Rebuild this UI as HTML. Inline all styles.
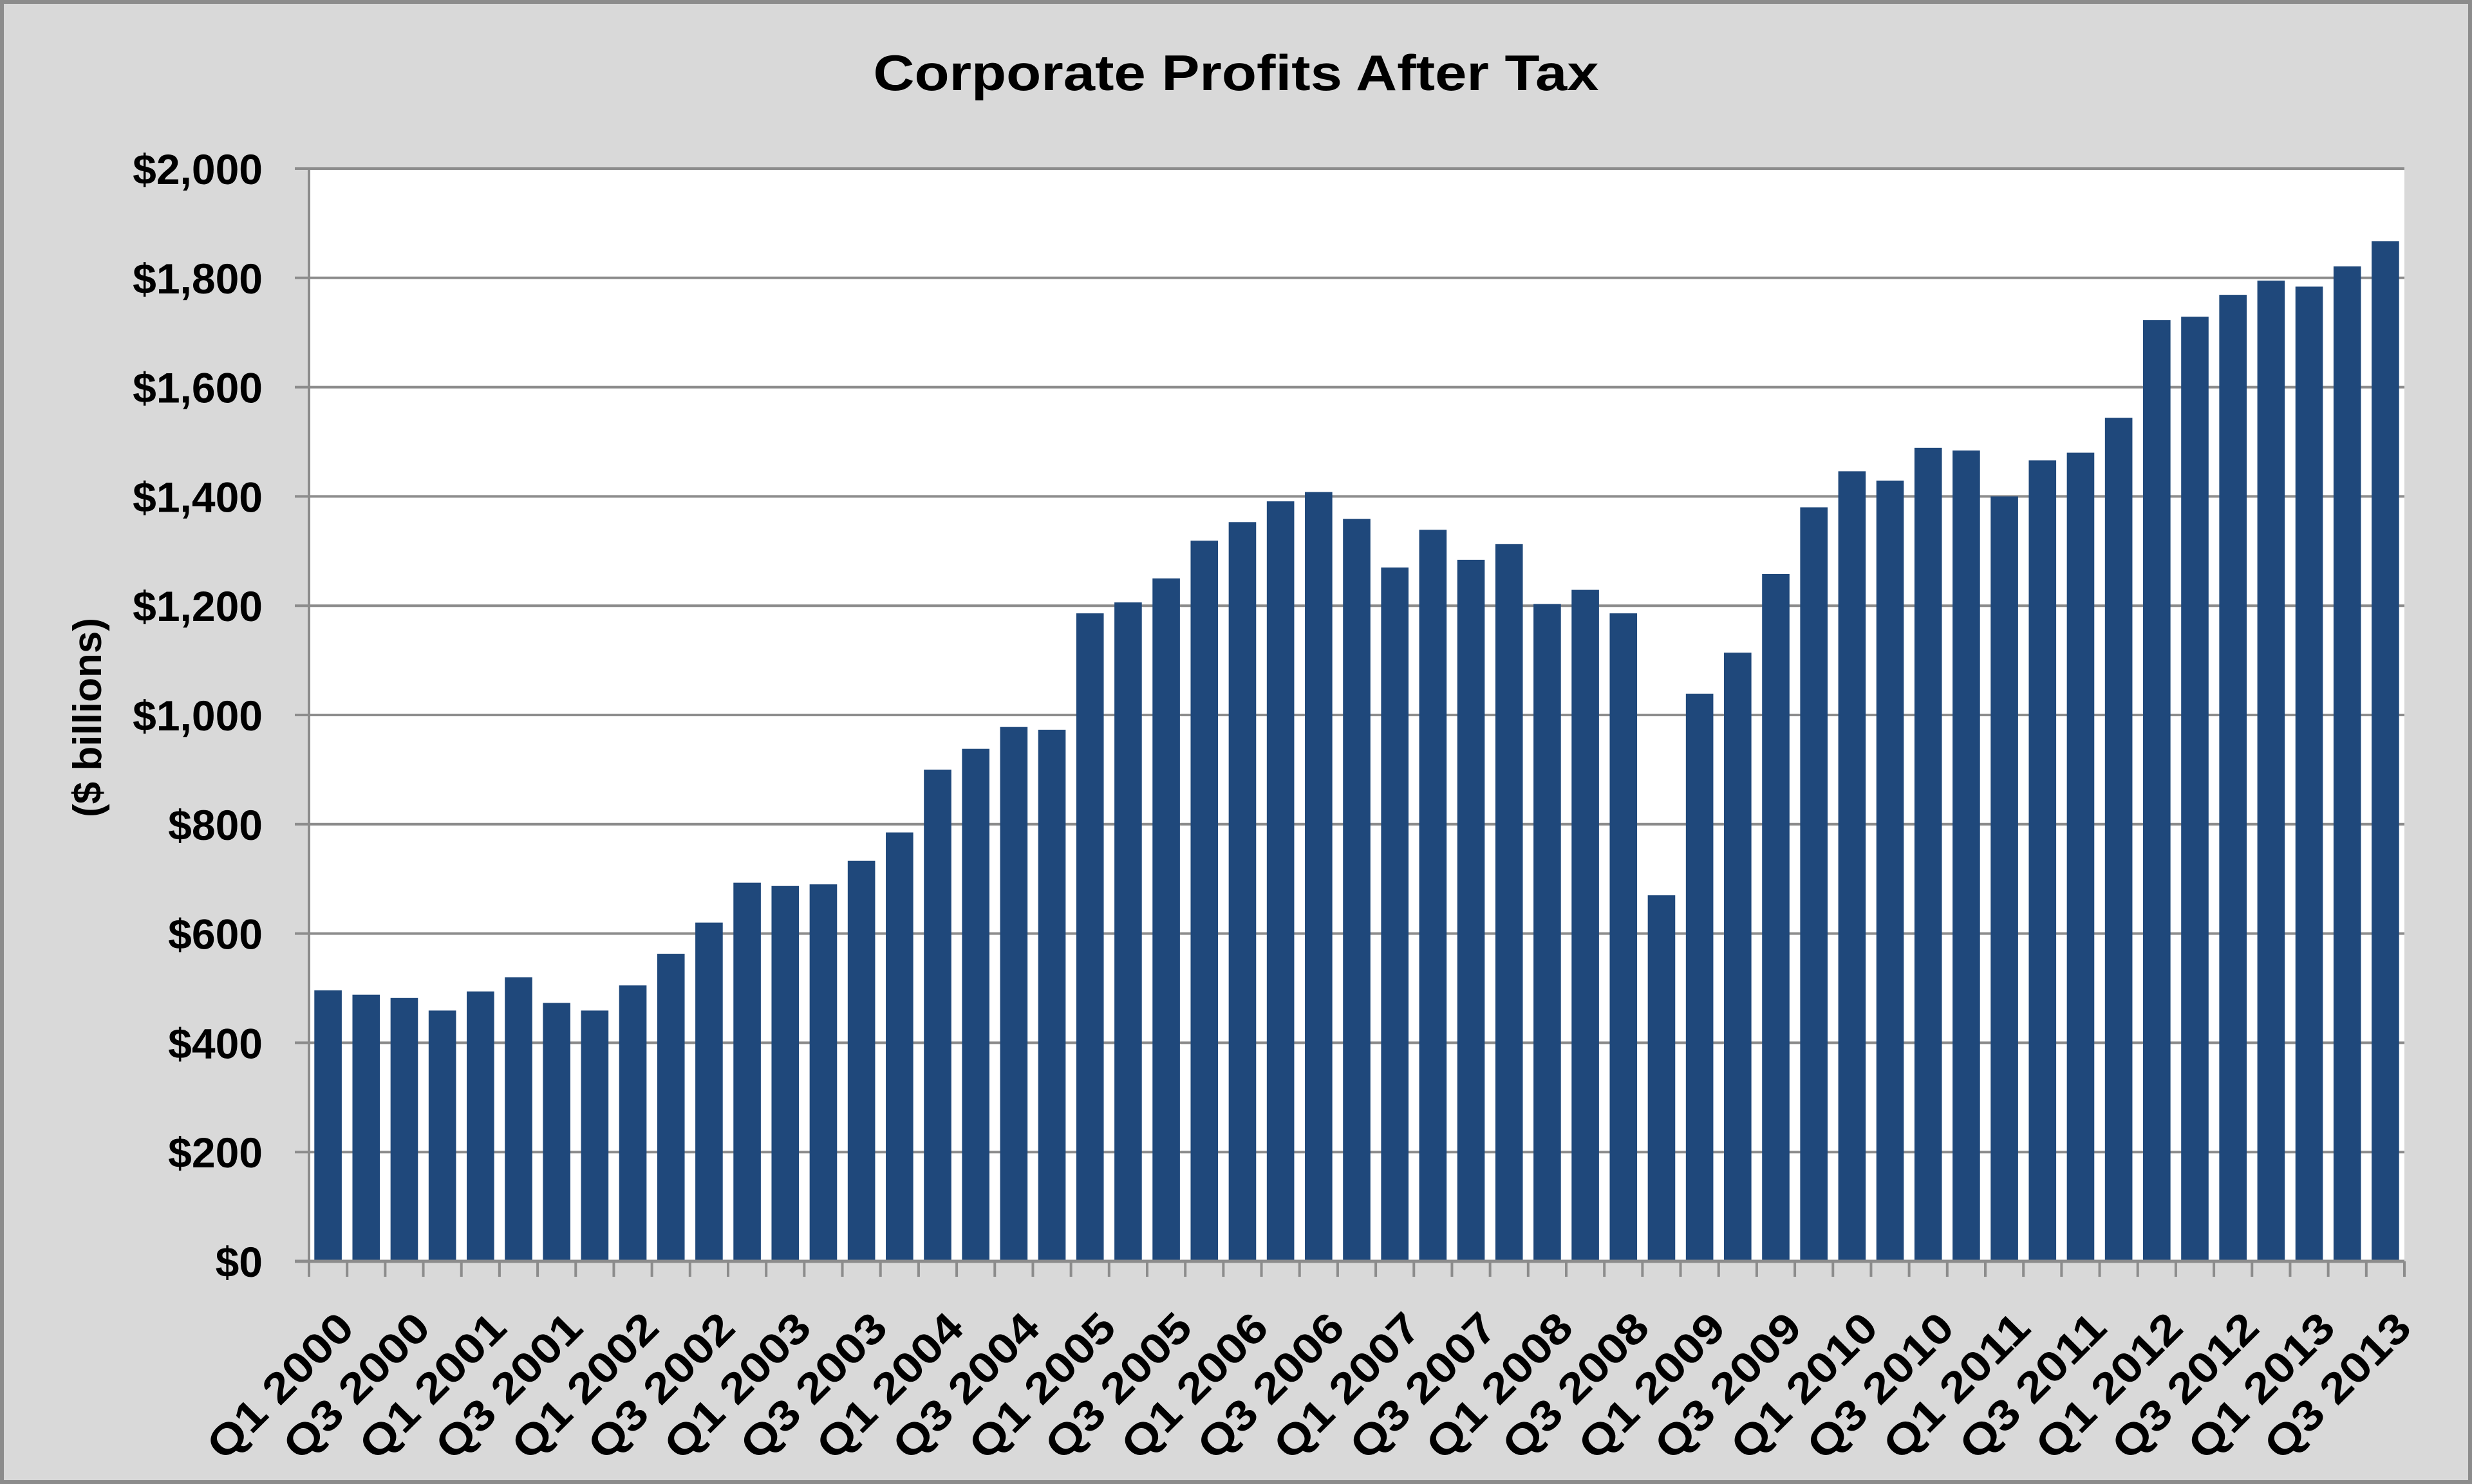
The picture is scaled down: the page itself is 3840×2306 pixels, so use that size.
<!DOCTYPE html>
<html><head><meta charset="utf-8"><style>
html,body{margin:0;padding:0;background:#d9d9d9}
svg{display:block}
text{font-family:"Liberation Sans",Arial,sans-serif;font-weight:bold;fill:#000}
</style></head><body>
<svg id="chart" width="3840" height="2306" viewBox="0 0 3840 2306" xmlns="http://www.w3.org/2000/svg">
<rect x="3" y="3" width="3834" height="2300" fill="#d9d9d9" stroke="#8c8c8c" stroke-width="6"/>
<rect x="480" y="262" width="3255" height="1698" fill="#ffffff"/>
<text x="1920" y="140" font-size="78" text-anchor="middle" textLength="1127" lengthAdjust="spacingAndGlyphs">Corporate Profits After Tax</text>
<text x="0" y="0" font-size="62" text-anchor="middle" transform="translate(157,1115) rotate(-90)">($ billions)</text>
<g id="grid"></g>
<g id="bars"></g>
<g id="axes"></g>
<g id="ylabels"></g>
<g id="xlabels"></g>
</svg>
<script>
const categories = [];
const years = [2000,2001,2002,2003,2004,2005,2006,2007,2008,2009,2010,2011,2012,2013];
const quarters = ["Q1","Q2","Q3","Q4"];
const profits = [496,488,482,459,494,520,473,459,505,563,620,693,687,690,733,785,900,938,978,973,1186,1206,1250,1319,1353,1391,1408,1359,1270,1339,1284,1313,1203,1229,1186,670,1039,1114,1258,1380,1446,1429,1489,1484,1400,1466,1480,1544,1723,1729,1769,1795,1784,1821,1867];
const yTicks = [0,200,400,600,800,1000,1200,1400,1600,1800,2000];
const yTickLabels = ["$0","$200","$400","$600","$800","$1,000","$1,200","$1,400","$1,600","$1,800","$2,000"];
for (const y of years) for (const q of quarters) categories.push(q + " " + y);
categories.length = profits.length;

const NS = "http://www.w3.org/2000/svg";
const L = 480, R = 3735, T = 262, B = 1960, YMAX = 2000;
const slot = (R - L) / profits.length;
const yScale = v => B - (v / YMAX) * (B - T);
const xScale = i => L + i * slot;
function mk(tag, attrs, parent){const e=document.createElementNS(NS,tag);for(const k in attrs)e.setAttribute(k,attrs[k]);parent.appendChild(e);return e;}

const grid = document.getElementById('grid');
yTicks.forEach((t,i)=>{
  if (t===0) return;
  const ln = mk('line',{x1:L-22,x2:R,y1:yScale(t),y2:yScale(t),stroke:'#8c8c8c','stroke-width':4},grid);
  
  
});
const bars = document.getElementById('bars');
const bw = slot * 0.72;
profits.forEach((v,i)=>{
  const r = mk('rect',{x:xScale(i)+(slot-bw)/2,y:yScale(v),width:bw,height:B-yScale(v),fill:'#1f487b'},bars);
  
  
});
const axes = document.getElementById('axes');
const ya = mk('line',{x1:L,x2:L,y1:T,y2:B,stroke:'#8c8c8c','stroke-width':4},axes);


const xa = mk('line',{x1:L-22,x2:R,y1:B,y2:B,stroke:'#8c8c8c','stroke-width':5},axes);


for (let i=0;i<=profits.length;i++){
  const tk = mk('line',{x1:xScale(i),x2:xScale(i),y1:B,y2:B+24,stroke:'#8c8c8c','stroke-width':4},axes);
  
  
}
const yl = document.getElementById('ylabels');
yTicks.forEach((t,i)=>{
  const tx = mk('text',{x:408,y:yScale(t)+24,'font-size':66,'text-anchor':'end'},yl);
  tx.textContent = yTickLabels[i];
  
  
});
const xl = document.getElementById('xlabels');
categories.forEach((c,i)=>{
  if (i%2!==0) return;
  const cx = xScale(i)+slot/2+44, cy = 2067;
  const tx = mk('text',{x:0,y:0,'font-size':66,'text-anchor':'end',textLength:290,lengthAdjust:'spacingAndGlyphs',transform:`translate(${cx},${cy}) rotate(-45)`},xl);
  tx.textContent = c;
  
  
});
</script>
</body></html>
